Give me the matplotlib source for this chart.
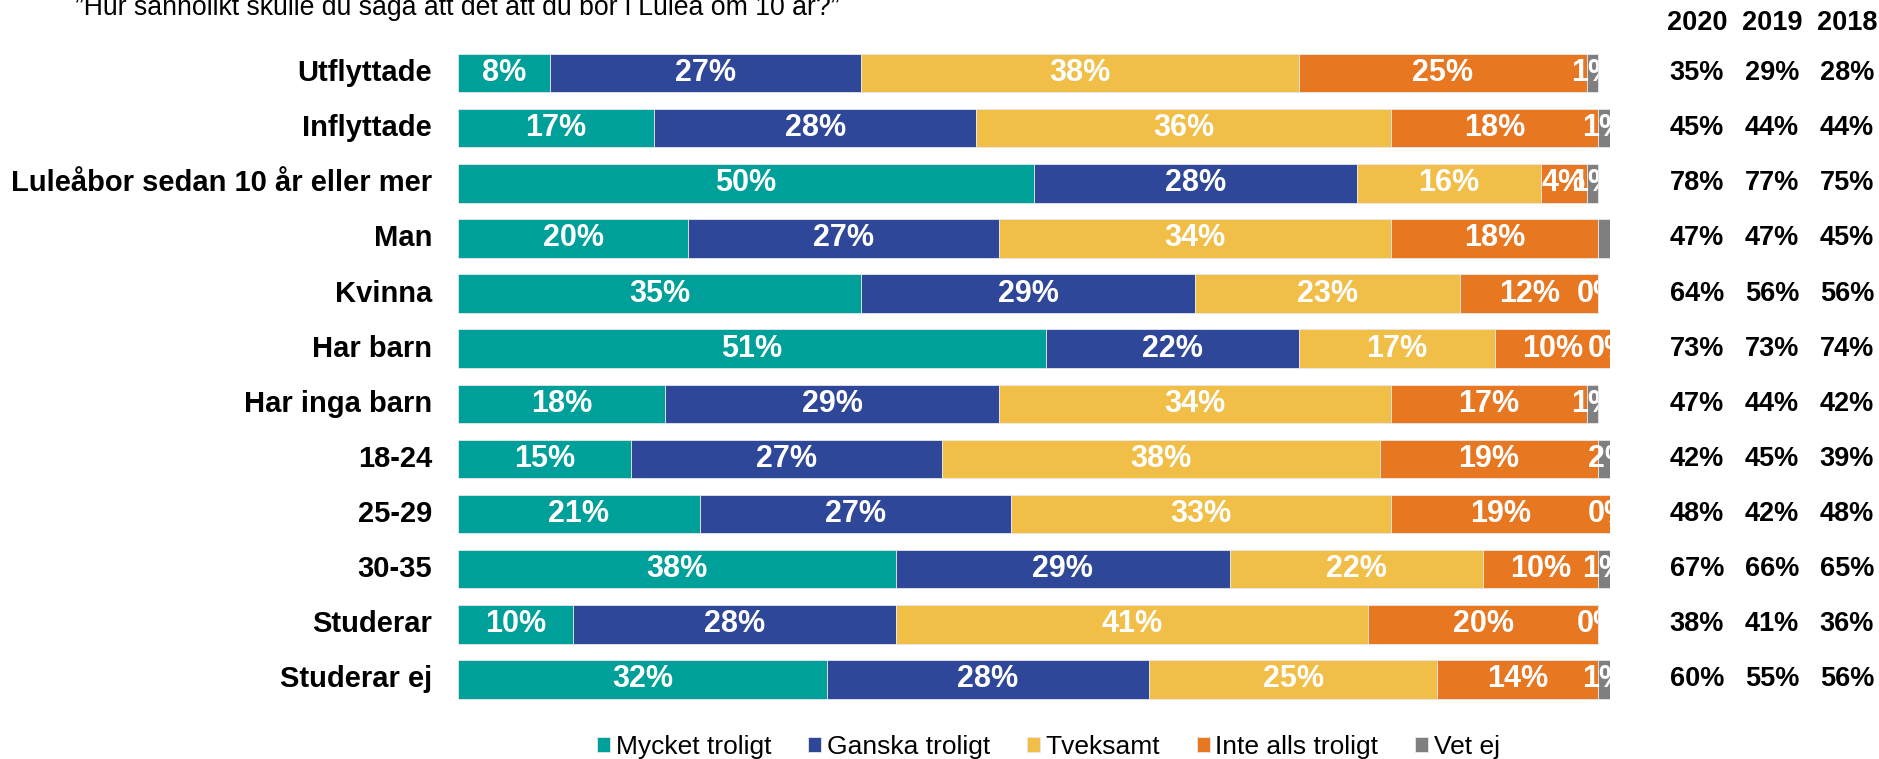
import numpy as np
import matplotlib.pyplot as plt
from matplotlib.patches import Rectangle
from matplotlib import transforms

plt.rcParams['font.family'] = ['Liberation Sans', 'DejaVu Sans']

categories = ['Utflyttade', 'Inflyttade', 'Luleåbor sedan 10 år eller mer', 'Man', 'Kvinna',
              'Har barn', 'Har inga barn', '18-24', '25-29', '30-35', 'Studerar', 'Studerar ej']
series = ['Mycket troligt', 'Ganska troligt', 'Tveksamt', 'Inte alls troligt', 'Vet ej']
mycket = [8, 17, 50, 20, 35, 51, 18, 15, 21, 38, 10, 32]
ganska = [27, 28, 28, 27, 29, 22, 29, 27, 27, 29, 28, 28]
tveksamt = [38, 36, 16, 34, 23, 17, 34, 38, 33, 22, 41, 25]
inte_alls = [25, 18, 4, 18, 12, 10, 17, 19, 19, 10, 20, 14]
vet_ej = [1, 1, 1, 1, 0, 0, 1, 2, 0, 1, 0, 1]
no_label = [(3, 4)]  # gray segment for "Man" has no label in the original

years = ['2020', '2019', '2018']
v2020 = [35, 45, 78, 47, 64, 73, 47, 42, 48, 67, 38, 60]
v2019 = [29, 44, 77, 47, 56, 73, 44, 45, 42, 66, 41, 55]
v2018 = [28, 44, 75, 45, 56, 74, 42, 39, 48, 65, 36, 56]

title = '”Hur sannolikt skulle du säga att det att du bor i Luleå om 10 år?”'
colors = ['#00A09A', '#2F4799', '#F1BE48', '#E87722', '#7F7F7F']

W, H = 1879, 759
fig = plt.figure(figsize=(W / 100, H / 100), dpi=100)
ax = fig.add_axes([458 / W, 1 - 707 / H, 1152 / W, (707 - 45.5) / H])

data = np.array([mycket, ganska, tveksamt, inte_alls, vet_ej])
y = np.arange(len(categories))
left = np.zeros(len(categories))
totals = data.sum(axis=0)

for k, name in enumerate(series):
    bars = ax.barh(y, data[k], left=left, height=0.7, color=colors[k], label=name,
                   edgecolor='#e8e8e8', linewidth=0.6)
    for i, b in enumerate(bars):
        if (i, k) in no_label:
            continue
        cx = left[i] + data[k][i] / 2
        t = ax.text(cx, y[i], f'{data[k][i]}%', ha='center', va='center', color='white',
                    fontsize=22, fontweight='bold', clip_on=True)
        # labels get cut at the end of the bar, like in the original
        clip = Rectangle((0, y[i] - 0.5), totals[i], 1, transform=ax.transData)
        t.set_clip_path(clip)
    left = left + data[k]

ax.set_xlim(0, 100)
ax.set_ylim(len(categories) - 0.5, -0.5)
ax.axis('off')

# category labels
tr = transforms.blended_transform_factory(fig.transFigure, ax.transData)
for i, c in enumerate(categories):
    ax.text(432 / W, y[i], c, transform=tr, ha='right', va='center',
            fontsize=21, fontweight='bold', color='black')

# year columns on the right
col_x = [1697 / W, 1772 / W, 1847 / W]
for j, vals in enumerate([v2020, v2019, v2018]):
    fig.text(col_x[j], 1 - 23 / H, years[j], ha='center', va='center',
             fontsize=19.5, fontweight='bold')
    for i, v in enumerate(vals):
        ax.text(col_x[j], y[i], f'{v}%', transform=tr, ha='center', va='center',
                fontsize=19.5, fontweight='bold')

fig.text(75 / W, 1 - 15 / H, title, ha='left', va='baseline', fontsize=19.2)

fig.legend(loc='center', bbox_to_anchor=(0.5 + 109 / W, 1 - 747 / H), ncol=5, frameon=False,
           fontsize=19, handlelength=0.5, handleheight=0.5, handletextpad=0.2,
           columnspacing=1.4, borderpad=0)

fig.savefig('out.png', dpi=100)
